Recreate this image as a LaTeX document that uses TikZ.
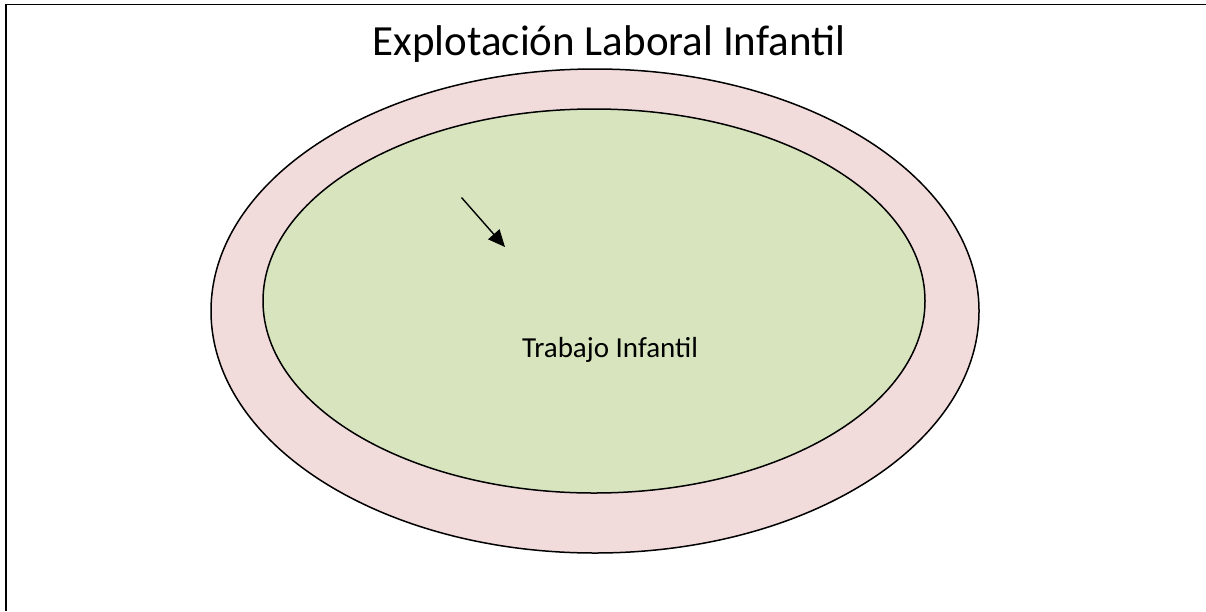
\documentclass[tikz,border=0pt]{standalone}
\usepackage{fontspec}
\setmainfont{Carlito}
\usetikzlibrary{shapes.geometric,arrows.meta}
\definecolor{pinkfill}{HTML}{F2DCDB}
\definecolor{greenfill}{HTML}{D7E4BD}
\tikzset{
  ring/.style={ellipse, draw=black, line width=1.5pt, inner sep=0pt},
  lbl/.style={anchor=base, inner sep=0pt, text=black}
}
\begin{document}
\begin{tikzpicture}[x=1pt,y=-1pt]
\useasboundingbox (0,0) rectangle (1206,611);
\fill[white] (0,0) rectangle (1206,611);
\draw[line width=1.8pt, black] (6,611) -- (6,4.5) -- (1206,4.5);
\node[ring, fill=pinkfill, minimum width=768pt, minimum height=484pt] (outer) at (595,311) {};
\node[ring, fill=greenfill, minimum width=662pt, minimum height=384pt] (inner) at (594,301) {};
\node[lbl, font=\fontsize{43}{50}\selectfont] (title) at (609,55) {Explotación Laboral Infantil};
\node[lbl, font=\fontsize{29}{34}\selectfont] (trabajo) at (610,357) {Trabajo Infantil};
\coordinate (as) at (461.5,197.5);
\coordinate (ae) at (505,247);
\draw[line width=1.4pt, -{Triangle[length=17pt,width=15pt]}] (as) -- (ae);
\end{tikzpicture}
\end{document}
